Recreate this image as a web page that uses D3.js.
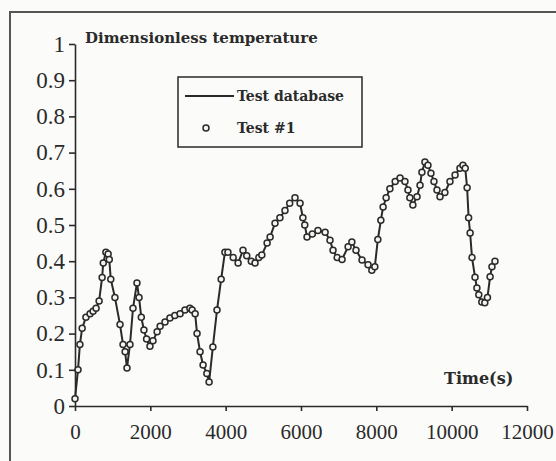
<!DOCTYPE html>
<html>
<head>
<meta charset="utf-8">
<script src="https://cdn.jsdelivr.net/npm/d3@7"></script>
<style>
  body { margin: 0; background: #fbfbf9; }
  svg { display: block; }
</style>
</head>
<body>
<div id="chart"></div>
<script>
// time (s) and dimensionless temperature
var times = [0, 80, 130, 190, 290, 400, 480, 560, 640, 720, 750, 820, 880, 910, 950,
  1060, 1195, 1275, 1330, 1380, 1460, 1540, 1645, 1700, 1760, 1830, 1900, 1990, 2070,
  2180, 2260, 2390, 2520, 2650, 2790, 2920, 3050, 3110, 3190, 3240, 3320, 3400, 3500,
  3560, 3660, 3770, 3880, 3980, 4060, 4200, 4330, 4460, 4560, 4680, 4780, 4880, 4960,
  5100, 5180, 5310, 5440, 5575, 5700, 5840, 5975, 6050, 6100, 6160, 6300, 6450, 6640,
  6770, 6850, 6960, 7090, 7250, 7350, 7460, 7620, 7780, 7880, 7960, 8040, 8120, 8180,
  8260, 8360, 8500, 8630, 8760, 8840, 8890, 8970, 9080, 9160, 9210, 9290, 9370, 9450,
  9530, 9610, 9690, 9820, 9955, 10090, 10220, 10300, 10360, 10410, 10450, 10490, 10540,
  10620, 10670, 10720, 10800, 10880, 10950, 11020, 11070, 11150];
var temps = [0.02, 0.10, 0.17, 0.215, 0.245, 0.255, 0.262, 0.27, 0.29, 0.355, 0.395, 0.425,
  0.42, 0.405, 0.35, 0.30, 0.225, 0.17, 0.15, 0.105, 0.17, 0.27, 0.34, 0.30, 0.245, 0.21,
  0.185, 0.165, 0.18, 0.205, 0.22, 0.232, 0.243, 0.25, 0.255, 0.265, 0.27, 0.265, 0.255,
  0.20, 0.15, 0.113, 0.09, 0.066, 0.163, 0.265, 0.35, 0.425, 0.425, 0.41, 0.395, 0.43,
  0.415, 0.40, 0.395, 0.41, 0.417, 0.45, 0.467, 0.505, 0.52, 0.54, 0.56, 0.575, 0.56,
  0.52, 0.50, 0.467, 0.475, 0.485, 0.48, 0.458, 0.43, 0.41, 0.405, 0.44, 0.453, 0.43,
  0.403, 0.39, 0.375, 0.385, 0.46, 0.513, 0.55, 0.575, 0.60, 0.62, 0.63, 0.62, 0.597,
  0.575, 0.555, 0.578, 0.61, 0.646, 0.674, 0.665, 0.643, 0.62, 0.597, 0.578, 0.59, 0.62,
  0.638, 0.657, 0.665, 0.657, 0.603, 0.52, 0.478, 0.41, 0.356, 0.326, 0.307, 0.287,
  0.285, 0.30, 0.357, 0.385, 0.40];
var xTicks = [0, 2000, 4000, 6000, 8000, 10000, 12000];
var yTicks = [0, 0.1, 0.2, 0.3, 0.4, 0.5, 0.6, 0.7, 0.8, 0.9, 1];
var legendLabels = ["Test database", "Test #1"];

var data = times.map(function (t, i) { return { t: t, v: temps[i] }; });

var width = 556, height = 461;
var ink = "#2a2a2a";

var svg = d3.select("#chart")
  .append("svg")
    .attr("width", width)
    .attr("height", height);

// frame of the scanned figure (only left and top edges show)
svg.append("path")
  .attr("d", "M10,461 L10,12 L556,12")
  .attr("fill", "none")
  .attr("stroke", "#555")
  .attr("stroke-width", 2);

var x = d3.scaleLinear().domain([0, 12000]).range([75, 527]);
var y = d3.scaleLinear().domain([0, 1]).range([406, 44]);

// x axis
var gx = svg.append("g")
  .attr("transform", "translate(0," + y(0) + ")")
  .call(d3.axisBottom(x).tickValues(xTicks).tickSize(5).tickSizeOuter(0).tickPadding(13)
    .tickFormat(d3.format("d")));
gx.selectAll("text")
  .style("font-family", "Liberation Serif")
  .style("font-size", "21px")
  .attr("fill", ink);

// y axis
var gy = svg.append("g")
  .attr("transform", "translate(" + x(0) + ",0)")
  .call(d3.axisLeft(y).tickValues(yTicks).tickSize(6).tickSizeOuter(0).tickPadding(4)
    .tickFormat(function (d) { return (d === 0 || d === 1) ? d : d3.format(".1f")(d); }));
gy.selectAll("text")
  .style("font-family", "Liberation Serif")
  .style("font-size", "23px")
  .attr("fill", ink);

svg.selectAll(".domain, .tick line")
  .attr("stroke", ink)
  .attr("stroke-width", 1.6);

// axis titles
svg.append("text")
  .attr("x", 85).attr("y", 43)
  .style("font-family", "DejaVu Serif")
  .style("font-weight", "bold")
  .style("font-size", "15px")
  .attr("fill", ink)
  .text("Dimensionless temperature");

svg.append("text")
  .attr("x", 444).attr("y", 384)
  .style("font-family", "DejaVu Serif")
  .style("font-weight", "bold")
  .style("font-size", "16px")
  .attr("fill", ink)
  .text("Time(s)");

// series
var line = d3.line()
  .x(function (d) { return x(d.t); })
  .y(function (d) { return y(d.v); });

svg.append("path")
  .datum(data)
  .attr("fill", "none")
  .attr("stroke", ink)
  .attr("stroke-width", 2)
  .attr("d", line);

svg.append("g")
  .selectAll("circle")
  .data(data)
  .enter()
  .append("circle")
    .attr("cx", function (d) { return x(d.t); })
    .attr("cy", function (d) { return y(d.v); })
    .attr("r", 3)
    .attr("fill", "#f4f4f2")
    .attr("stroke", ink)
    .attr("stroke-width", 1.5);

// legend
var legend = svg.append("g").attr("transform", "translate(178,77)");
legend.append("rect")
  .attr("width", 184).attr("height", 70)
  .attr("fill", "none")
  .attr("stroke", ink)
  .attr("stroke-width", 1.5);
legend.append("line")
  .attr("x1", 7).attr("x2", 56).attr("y1", 19).attr("y2", 19)
  .attr("stroke", ink).attr("stroke-width", 2);
legend.append("circle")
  .attr("cx", 28).attr("cy", 51).attr("r", 3)
  .attr("fill", "#f4f4f2").attr("stroke", ink).attr("stroke-width", 1.5);
legend.selectAll("text")
  .data(legendLabels)
  .enter()
  .append("text")
    .attr("x", 59)
    .attr("y", function (d, i) { return 24 + i * 32; })
    .style("font-family", "DejaVu Serif")
    .style("font-weight", "bold")
    .style("font-size", "14px")
    .attr("fill", ink)
    .text(function (d) { return d; });
</script>
</body>
</html>
